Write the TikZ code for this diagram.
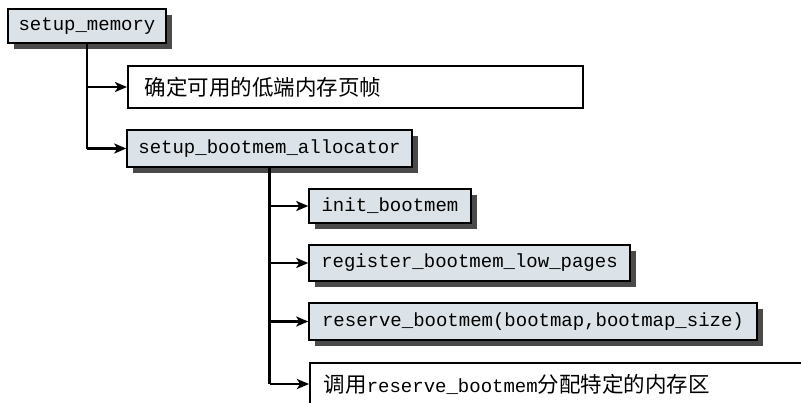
\documentclass[tikz,border=0pt]{standalone}
\usepackage{fontspec}
\setmonofont{Liberation Mono}
\newfontfamily\cjk{Noto Sans CJK SC}
\usetikzlibrary{arrows.meta,shadows}
\definecolor{boxfill}{HTML}{DCE3E8}
\definecolor{shadowgray}{HTML}{4A4A4A}
\newcommand{\mono}{\fontsize{19}{23}\selectfont\ttfamily}
\newcommand{\cjktext}{\fontsize{21.5}{25}\selectfont\cjk}
\begin{document}
\begin{tikzpicture}[x=1pt,y=-1pt,
  fnbox/.style={draw=black, line width=1.5pt, fill=boxfill, inner sep=0pt,
    font=\mono, drop shadow={shadow xshift=6pt, shadow yshift=-6pt, fill=shadowgray, opacity=1}},
  notebox/.style={draw=black, line width=1.5pt, fill=white, inner sep=0pt, anchor=west, align=left},
  conn/.style={line width=2.4pt, -{Stealth[length=12pt,width=10pt,inset=3pt]}},
  trunk/.style={line width=2.4pt}]
\useasboundingbox (0,0) rectangle (801,402);
\clip (0,0) rectangle (801,402);
\node[fnbox, minimum width=158pt, minimum height=34pt] (mem) at (87,26) {setup\_memory};
\node[notebox, minimum width=455pt, minimum height=42pt, text width=421pt, inner xsep=17pt, font=\cjktext] (note1) at (127,87) {确定可用的低端内存页帧};
\node[fnbox, minimum width=285pt, minimum height=37pt] (alloc) at (269.5,148.5) {setup\_bootmem\_allocator};
\node[fnbox, minimum width=162pt, minimum height=34pt] (init) at (390,206) {init\_bootmem};
\node[fnbox, minimum width=321pt, minimum height=36pt] (reg) at (469.5,263) {register\_bootmem\_low\_pages};
\node[fnbox, minimum width=448pt, minimum height=37pt] (res) at (533,321.5) {reserve\_bootmem(bootmap,bootmap\_size)};
\node[notebox, minimum width=540pt, minimum height=42pt, text width=512pt, inner xsep=14pt] (note2) at (309,384)
  {\cjktext 调用{\mono reserve\_bootmem}分配特定的内存区};
% connectors
\draw[trunk] (mem.south) -- (mem.south |- alloc.west);
\draw[conn] (mem.south |- note1.west) -- (note1.west);
\draw[conn] (mem.south |- alloc.west) -- (alloc.west);
\draw[trunk] (alloc.south) -- (alloc.south |- note2.west);
\draw[conn] (alloc.south |- init.west) -- (init.west);
\draw[conn] (alloc.south |- reg.west) -- (reg.west);
\draw[conn] (alloc.south |- res.west) -- (res.west);
\draw[conn] (alloc.south |- note2.west) -- (note2.west);
\end{tikzpicture}
\end{document}
